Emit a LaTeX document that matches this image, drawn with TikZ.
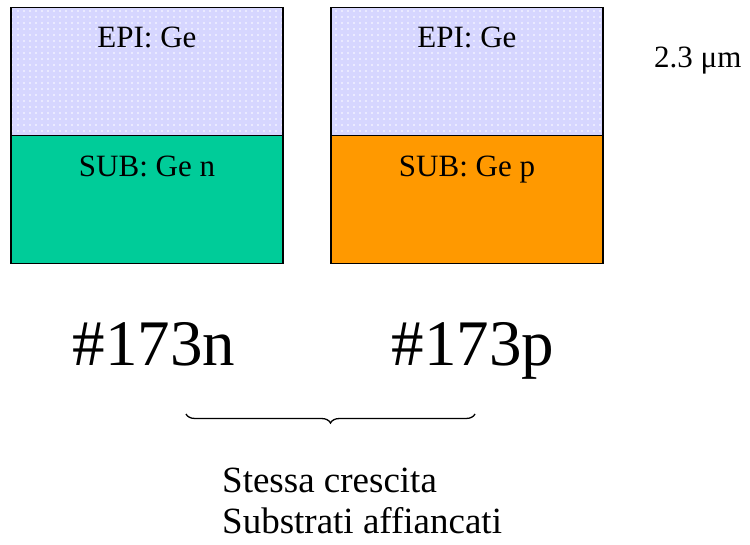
\documentclass[tikz,border=0pt]{standalone}
\usepackage{fontspec}
\setmainfont{Liberation Serif}
\usetikzlibrary{patterns.meta,decorations.pathreplacing}
\definecolor{epicol}{RGB}{214,214,255}
\definecolor{subn}{RGB}{0,204,153}
\definecolor{subp}{RGB}{255,153,0}
\tikzset{
  layer/.style={draw=black, line width=1.5pt, minimum width=272pt, minimum height=128pt, inner sep=0pt, outer sep=0pt},
  epilayer/.style={layer, fill=epicol, postaction={pattern={Dots[distance=6pt, radius=0.95pt]}, pattern color=white}},
  small/.style={font=\fontsize{31}{36}\selectfont, inner sep=0pt},
  big/.style={font=\fontsize{65}{72}\selectfont, inner sep=0pt},
  note/.style={font=\fontsize{37}{42}\selectfont, inner sep=0pt},
}
\begin{document}
\begin{tikzpicture}[x=1pt,y=-1pt]
\useasboundingbox (0,0) rectangle (750,545);
\node[epilayer] (epiL) at (147,71.5) {};
\node[layer, fill=subn] (subL) at (147,199.5) {};
\node[epilayer] (epiR) at (467,71.5) {};
\node[layer, fill=subp] (subR) at (467,199.5) {};
\draw[line width=1.5pt] (epiL.north west) rectangle (subL.south east);
\draw[line width=1.5pt] (epiR.north west) rectangle (subR.south east);
\node[small, anchor=base] (tEL) at (147,48) {EPI: Ge};
\node[small, anchor=base] (tSL) at (147,177) {SUB: Ge n};
\node[small, anchor=base] (tER) at (467,48) {EPI: Ge};
\node[small, anchor=base] (tSR) at (467,177) {SUB: Ge p};
\node[small, anchor=base west] (thick) at (654,68) {2.3 μm};
\node[big, anchor=base] (nameL) at (154,366) {\#173n};
\node[big, anchor=base] (nameR) at (473,366) {\#173p};
\coordinate (bA) at (186,414);
\coordinate (bB) at (475,414);
\draw[line width=1.3pt, decoration={brace, mirror, amplitude=9pt}, decorate] (bA) -- (bB);
\node[note, anchor=base west] (cap1) at (222,492) {Stessa crescita};
\node[note, anchor=base west] (cap2) at (222,533) {Substrati affiancati};
\end{tikzpicture}
\end{document}
